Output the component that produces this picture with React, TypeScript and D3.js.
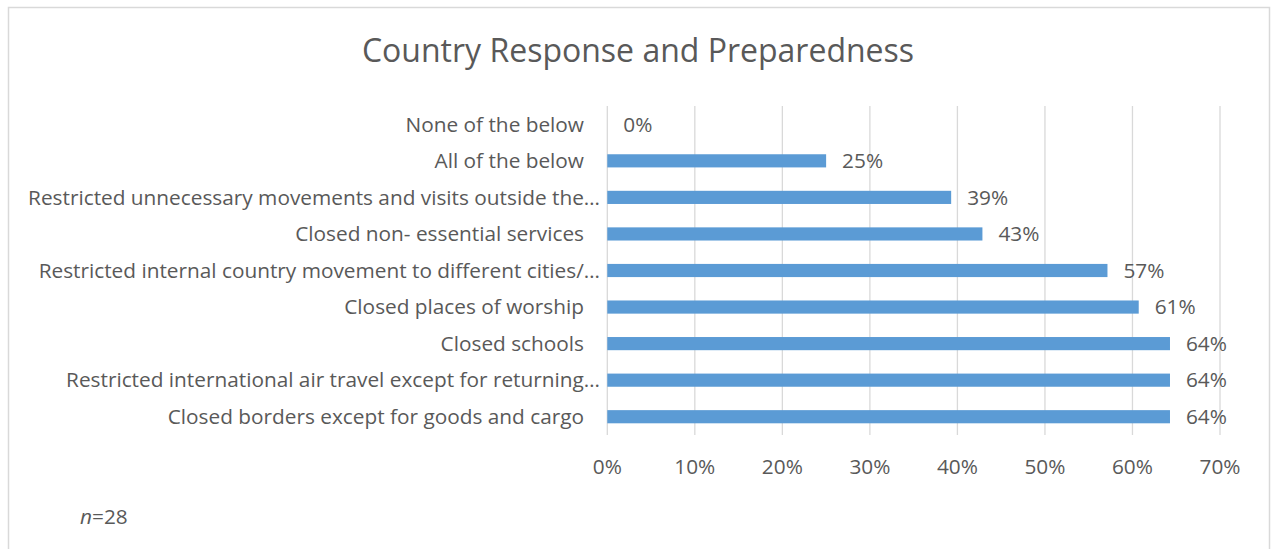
import React from "react";
import * as d3 from "d3";

const title = "Country Response and Preparedness";
const categories = [
  "None of the below",
  "All of the below",
  "Restricted unnecessary movements and visits outside the…",
  "Closed non- essential services",
  "Restricted internal country movement to different cities/…",
  "Closed places of worship",
  "Closed schools",
  "Restricted international air travel except for returning…",
  "Closed borders except for goods and cargo",
];
const values = [0, 7 / 28, 11 / 28, 12 / 28, 16 / 28, 17 / 28, 18 / 28, 18 / 28, 18 / 28];
const xTicks = [0, 0.1, 0.2, 0.3, 0.4, 0.5, 0.6, 0.7];
const note = "28";

const W = 1273;
const H = 549;
const plot = { left: 607.3, right: 1220, top: 106, bottom: 435 };
const FONT = "'Open Sans', sans-serif";
const TXT = "#595959";
const FS = 20.8;

export default function App() {
  const x = d3.scaleLinear().domain([0, 0.7]).range([plot.left, plot.right]);
  const y = d3
    .scaleBand<string>()
    .domain(categories)
    .range([plot.top, plot.bottom])
    .paddingInner(0.64)
    .paddingOuter(0.32);
  const fmt = d3.format(".0%");
  return (
    <div style={{ position: "absolute", left: 0, top: 0 }}>
      <svg width={W} height={H} style={{ display: "block", background: "#fff" }}>
        <rect x={8.5} y={7.5} width={1261} height={560} fill="#fff" stroke="#D9D9D9" strokeWidth={1.5} />
        <text x={638} y={62} textAnchor="middle" fontFamily={FONT} fontSize={32} fill={TXT}>
          {title}
        </text>
        {xTicks.map((t) => (
          <line key={"g" + t} x1={x(t)} x2={x(t)} y1={plot.top} y2={plot.bottom} stroke="#D9D9D9" strokeWidth={1.3} />
        ))}
        {categories.map((c, i) => (
          <g key={c}>
            {values[i] > 0 && (
              <rect x={x(0)} y={y(c)!} width={x(values[i]) - x(0)} height={y.bandwidth()} fill="#5B9BD5" />
            )}
            <text
              x={c.endsWith("…") ? 600 : 584}
              y={y(c)! + y.bandwidth() / 2}
              dy="0.35em"
              textAnchor="end"
              fontFamily={FONT}
              fontSize={FS}
              fill={TXT}
            >
              {c}
            </text>
            <text
              x={x(values[i]) + 16}
              y={y(c)! + y.bandwidth() / 2}
              dy="0.35em"
              fontFamily={FONT}
              fontSize={FS}
              fill={TXT}
            >
              {fmt(values[i])}
            </text>
          </g>
        ))}
        {xTicks.map((t) => (
          <text key={"t" + t} x={x(t)} y={467} dy="0.35em" textAnchor="middle" fontFamily={FONT} fontSize={FS} fill={TXT}>
            {fmt(t)}
          </text>
        ))}
        <text x={80} y={517} dy="0.35em" fontFamily={FONT} fontSize={FS} fill={TXT}>
          <tspan fontStyle="italic">n</tspan>={note}
        </text>
      </svg>
    </div>
  );
}
